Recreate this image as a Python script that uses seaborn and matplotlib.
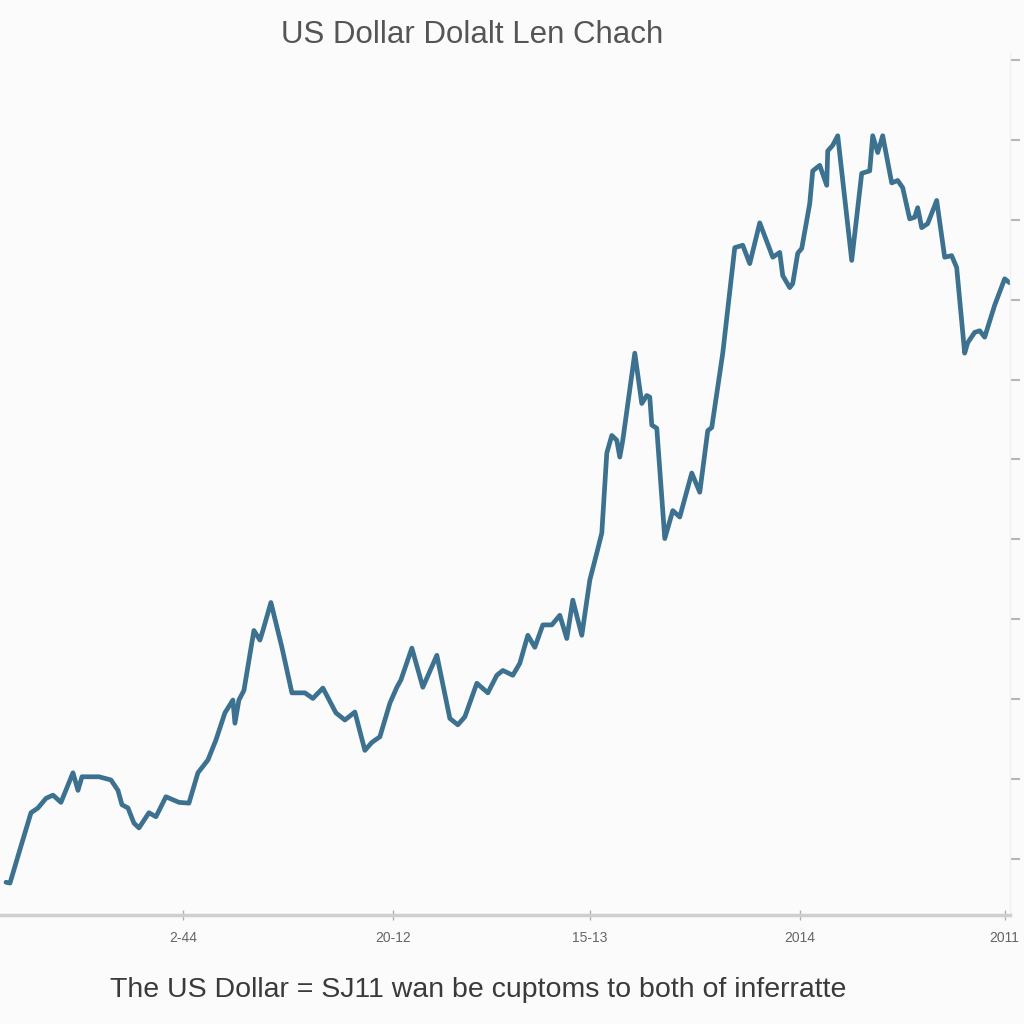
import numpy as np
import pandas as pd
import matplotlib
matplotlib.use("Agg")
import matplotlib.pyplot as plt
import seaborn as sns

# ---- data ----
days = [6, 10, 19, 31, 38, 46, 53, 61, 73, 78, 82, 99, 111, 118, 122, 128, 134, 139,
        149, 156, 166, 179, 189, 198, 208, 216, 225, 233, 235, 239, 244, 254, 260, 263,
        271, 282, 292, 305, 313, 323, 336, 345, 355, 365, 372, 380, 390, 397, 401, 412,
        423, 437, 450, 458, 465, 477, 488, 497, 503, 513, 520, 528, 535, 543, 552, 560,
        567, 573, 582, 590, 597, 602, 607, 612, 617, 620, 623, 635, 642, 647, 650, 652,
        657, 665, 673, 680, 692, 700, 708, 712, 723, 735, 743, 750, 760, 773, 780, 783,
        790, 793, 798, 802, 810, 813, 820, 827, 828, 833, 838, 852, 862, 870, 873, 878,
        883, 892, 898, 903, 910, 915, 918, 922, 928, 937, 945, 952, 957, 965, 968, 975,
        980, 985, 995, 1005, 1010]
rate = [7.1, 7.0, 10.8, 15.8, 16.4, 17.6, 18.0, 17.1, 20.8, 18.6, 20.3, 20.3, 19.9, 18.6,
        16.8, 16.4, 14.5, 13.9, 15.8, 15.3, 17.8, 17.1, 17.0, 20.8, 22.4, 24.9, 28.3, 29.9,
        27.0, 29.9, 31.1, 38.6, 37.4, 38.6, 42.1, 36.5, 30.8, 30.8, 30.1, 31.4, 28.3, 27.4,
        28.4, 23.6, 24.6, 25.3, 29.5, 31.5, 32.4, 36.4, 31.5, 35.5, 27.6, 26.8, 27.8, 32.0,
        30.8, 33.0, 33.6, 33.0, 34.5, 38.0, 36.5, 39.3, 39.3, 40.5, 37.6, 42.4, 38.0, 44.9,
        48.3, 50.8, 60.8, 63.0, 62.4, 60.3, 62.4, 73.3, 67.0, 68.0, 67.8, 64.3, 63.9, 50.1,
        53.6, 52.8, 58.3, 55.9, 63.6, 64.0, 73.3, 86.5, 86.8, 84.5, 89.6, 85.3, 85.9, 83.0,
        81.5, 82.0, 85.8, 86.4, 92.0, 96.1, 96.8, 94.3, 98.6, 99.3, 100.5, 84.9, 95.8, 96.1,
        100.5, 98.4, 100.5, 94.6, 94.9, 94.0, 90.1, 90.3, 91.5, 89.0, 89.5, 92.4, 85.3, 85.5,
        84.0, 73.3, 74.6, 75.9, 76.1, 75.3, 79.3, 82.6, 82.1]
tick_days = [183, 393, 590, 800, 1005]
tick_labels = ["2-44", "20-12", "15-13", "2014", "2011"]
rate_ticks = [10, 20, 30, 40, 50, 60, 70, 80, 90, 100, 110]

title = "US Dollar Dolalt Len Chach"
caption = "The US Dollar = SJ11 wan be cuptoms to both of inferratte"

df = pd.DataFrame({"day": days, "rate": rate})

sns.set_theme(style="white")
plt.rcParams["font.family"] = ["Liberation Sans", "DejaVu Sans"]

fig = plt.figure(figsize=(10.24, 10.24), dpi=100, facecolor="#fbfbfb")
ax = fig.add_axes([0.0, 0.1064, 0.986, 0.843])
ax.set_facecolor("#fbfbfb")

sns.lineplot(data=df, x="day", y="rate", ax=ax, color="#3d7190", linewidth=3.4,
             solid_joinstyle="round", solid_capstyle="round")

ax.set_xlim(0, 1010)
ax.set_ylim(3, 111)
ax.set_xlabel("")
ax.set_ylabel("")

for s in ["top", "left"]:
    ax.spines[s].set_visible(False)
ax.spines["right"].set_color("#f0f0f0")
ax.spines["right"].set_linewidth(1)
ax.spines["bottom"].set_color("#cfcfcf")
ax.spines["bottom"].set_linewidth(2.5)

ax.set_xticks(tick_days)
ax.set_xticklabels(tick_labels)
ax.tick_params(axis="x", direction="inout", length=7, width=1, color="#b0b0b0",
               labelsize=10, labelcolor="#666666", pad=8, bottom=True)

ax.yaxis.tick_right()
ax.set_yticks(rate_ticks)
ax.set_yticklabels([])
ax.tick_params(axis="y", direction="out", length=7, width=1.5, color="#b5b5b5",
               right=True, pad=0)

fig.text(0.461, 0.966, title, ha="center", va="center", fontsize=22.5, color="#555555")
fig.text(0.467, 0.033, caption, ha="center", va="center", fontsize=20.5, color="#3a3a3a")

fig.savefig("out.png", dpi=100, facecolor=fig.get_facecolor())
